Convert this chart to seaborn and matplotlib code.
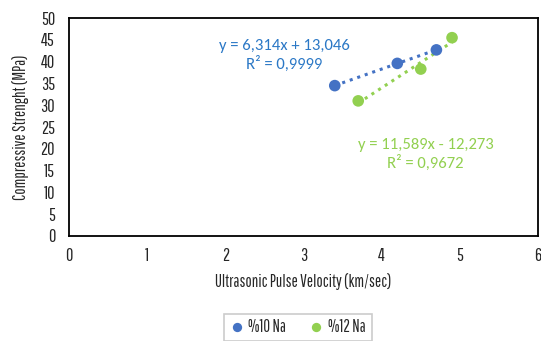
import matplotlib
matplotlib.use("Agg")
import matplotlib.pyplot as plt
import seaborn as sns
import numpy as np
import pandas as pd

x10 = [3.4, 4.2, 4.7]
y10 = [34.5, 39.6, 42.7]
x12 = [3.7, 4.5, 4.9]
y12 = [31.0, 38.3, 45.5]
labels = ["%10 Na", "%12 Na"]
eq10 = "y = 6,314x + 13,046\nR² = 0,9999"
eq12 = "y = 11,589x - 12,273\nR² = 0,9672"
xticks = [0, 1, 2, 3, 4, 5, 6]
yticks = [0, 5, 10, 15, 20, 25, 30, 35, 40, 45, 50]

sns.set_style("white")
cond = ["Pathway Gothic One", "DejaVu Sans"]
plt.rcParams['font.family'] = cond

blue = "#4472C4"
green = "#92D050"

fig = plt.figure(figsize=(5.41, 3.41), dpi=100)
ax = fig.add_axes([0.1275, 0.308, 0.867, 0.639])

df = pd.concat([
    pd.DataFrame({"x": x10, "y": y10, "s": labels[0]}),
    pd.DataFrame({"x": x12, "y": y12, "s": labels[1]}),
])

for xs, ys, c in [(x10, y10, blue), (x12, y12, green)]:
    sns.regplot(x=xs, y=ys, ax=ax, ci=None, scatter=False, truncate=True,
                line_kws=dict(color=c, linestyle=(0, (1, 1.6)), linewidth=2.2))

sns.scatterplot(data=df, x="x", y="y", hue="s", palette=[blue, green], s=70,
                edgecolor="none", ax=ax, legend=True, zorder=5)

ax.set_xlim(0, 6)
ax.set_ylim(0, 50)
ax.set_xticks(xticks)
ax.set_yticks(yticks)
ax.tick_params(axis="y", labelsize=13, length=0, pad=10)
ax.tick_params(axis="x", labelsize=13, length=0, pad=9)
ax.set_xlabel("Ultrasonic Pulse Velocity (km/sec)", fontsize=12, labelpad=6)
ax.set_ylabel("Compressive Strenght (MPa)", fontsize=12, labelpad=8)
for sp in ax.spines.values():
    sp.set_visible(True)
    sp.set_color("black")
    sp.set_linewidth(1.3)

ann = ["Carlito", "DejaVu Sans"]
ax.text(2.75, 41.5, eq10, color="#2B78C6", fontsize=12, ha="center", va="center",
        family=ann, linespacing=1.2)
ax.text(4.56, 18.7, eq12, color=green, fontsize=12, ha="center", va="center",
        family=ann, linespacing=1.2)

h, l = ax.get_legend_handles_labels()
leg = ax.legend(h, l, loc="center", bbox_to_anchor=(0.488, -0.42), ncol=2,
                frameon=True, fontsize=12, handlelength=0.8, handletextpad=0.3,
                columnspacing=1.4, borderpad=0.35, markerscale=0.8, fancybox=False)
leg.get_frame().set_edgecolor("#BFBFBF")
leg.get_frame().set_linewidth(1.2)

fig.savefig("out.png", dpi=100)
